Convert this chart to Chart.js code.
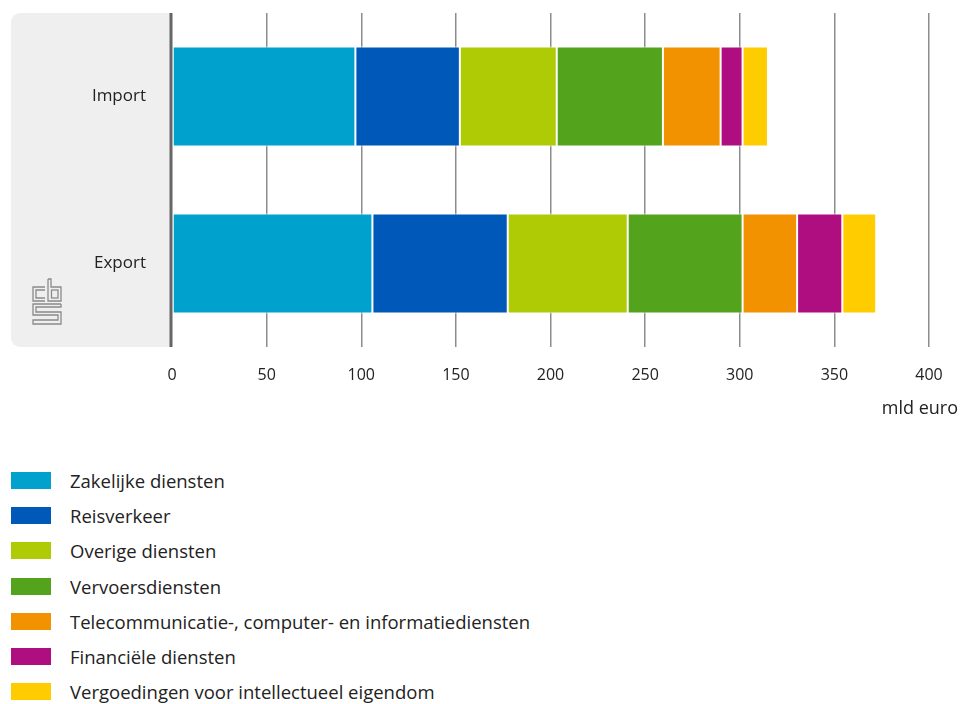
<!DOCTYPE html>
<html>
<head>
<meta charset="utf-8">
<script src="https://cdn.jsdelivr.net/npm/chart.js@4"></script>
<style>
    body { margin: 0; background: #fff; font-family: "Open Sans", sans-serif; color: #222; }
    #wrap { position: relative; width: 961px; height: 430px; }
    #legend { position: absolute; left: 11px; top: 472px; }
    .item { display: flex; align-items: center; height: 35.2px; margin-top: -9px; margin-bottom: 9px; font-size: 18.5px; }
    .swatch { width: 40px; height: 17px; margin-right: 19px; }
</style>
</head>
<body>
<div id="wrap"><canvas id="chart"></canvas></div>
<div id="legend"></div>
<script>
const categories = ["Import", "Export"];
const seriesNames = [
    "Zakelijke diensten",
    "Reisverkeer",
    "Overige diensten",
    "Vervoersdiensten",
    "Telecommunicatie-, computer- en informatiediensten",
    "Financiële diensten",
    "Vergoedingen voor intellectueel eigendom",
];
const zakelijke = [96.9, 105.9];
const reisverkeer = [55.2, 71.5];
const overige = [51.2, 63.4];
const vervoer = [56.1, 60.7];
const telecom = [30.5, 28.8];
const financieel = [11.6, 23.9];
const vergoedingen = [13.4, 17.9];
const xTicks = [0, 50, 100, 150, 200, 250, 300, 350, 400];
const unitLabel = "mld euro";

const colors = ["#00a1cd", "#0058b8", "#afcb05", "#53a31d", "#f39200", "#af0e80", "#ffcc00"];
const values = [zakelijke, reisverkeer, overige, vervoer, telecom, financieel, vergoedingen];

const textFont = "'Open Sans', sans-serif";

// grey panel behind the category labels, zero line, logo, unit label
const decor = {
    id: "decor",
    beforeDraw(chart) {
        const { ctx, chartArea } = chart;
        const x = 11, y = chartArea.top, w = chartArea.left - 11, h = chartArea.bottom - chartArea.top;
        ctx.save();
        ctx.fillStyle = "#efefef";
        ctx.beginPath();
        ctx.roundRect(x, y, w, h, [9, 0, 0, 9]);
        ctx.fill();

        // cbs logo
        ctx.strokeStyle = "#8a8a8a";
        ctx.lineWidth = 1.3;
        const lx = 32, ly = 278;
        const path = (pts) => {
            ctx.beginPath();
            pts.forEach(([px, py], i) => i ? ctx.lineTo(lx + px, ly + py) : ctx.moveTo(lx + px, ly + py));
            ctx.stroke();
        };
        path([[13, 9], [1, 9], [1, 23], [13, 23]]);
        path([[13, 12], [4, 12], [4, 20], [13, 20]]);
        path([[16, 1], [16, 23], [29, 23], [29, 9], [19, 9], [19, 1], [16, 1]]);
        ctx.strokeRect(lx + 19.5, ly + 12, 6.5, 8);
        path([[29, 26], [1, 26], [1, 37], [26, 37], [26, 42], [1, 42], [1, 46], [29, 46], [29, 34], [4, 34], [4, 29], [29, 29], [29, 26]]);
        ctx.restore();
    },
    afterDatasetsDraw(chart) {
        const { ctx, chartArea } = chart;
        ctx.save();
        ctx.fillStyle = "#666";
        ctx.fillRect(chartArea.left - 2.5, chartArea.top, 3, chartArea.bottom - chartArea.top);
        ctx.fillStyle = "#222";
        ctx.font = "18px " + textFont;
        ctx.textAlign = "right";
        ctx.textBaseline = "middle";
        ctx.fillText(unitLabel, 958, 409);
        ctx.restore();
    },
};

const chart = new Chart(document.getElementById("chart"), {
    type: "bar",
    data: {
        labels: categories,
        datasets: seriesNames.map((name, i) => ({
            label: name,
            data: values[i],
            backgroundColor: colors[i],
            borderColor: "#ffffff",
            borderWidth: 1,
            borderSkipped: false,
            categoryPercentage: 1,
            barPercentage: 0.6,
        })),
    },
    options: {
        indexAxis: "y",
        responsive: true,
        maintainAspectRatio: false,
        animation: false,
        layout: { padding: { top: 13, right: 32, left: 0, bottom: 0 } },
        scales: {
            x: {
                stacked: true,
                min: 0,
                max: 400,
                afterBuildTicks: (scale) => {
                    scale.ticks = xTicks.map((v) => ({ value: v }));
                },
                afterFit: (scale) => {
                    scale.height = 83;
                    scale.paddingLeft = 0;
                    scale.paddingRight = 0;
                },
                border: { display: false },
                grid: {
                    drawTicks: false,
                    color: (c) => (c.tick && c.tick.value === 0 ? "rgba(0,0,0,0)" : "#8c8c8c"),
                    lineWidth: 1.5,
                },
                ticks: {
                    padding: 19,
                    color: "#222",
                    font: { family: textFont, size: 16 },
                },
            },
            y: {
                stacked: true,
                afterFit: (scale) => {
                    scale.width = 172;
                    scale.paddingTop = 0;
                    scale.paddingBottom = 0;
                },
                border: { display: false },
                grid: { display: false, drawTicks: false },
                ticks: {
                    padding: 26,
                    color: "#222",
                    font: { family: textFont, size: 17 },
                },
            },
        },
        plugins: {
            legend: { display: false },
            tooltip: { enabled: false },
        },
    },
    plugins: [decor],
});

const legendEl = document.getElementById("legend");
seriesNames.forEach((name, i) => {
    const row = document.createElement("div");
    row.className = "item";
    row.innerHTML = `<span class="swatch" style="background:${colors[i]}"></span><span>${name}</span>`;
    legendEl.appendChild(row);
});
</script>
</body>
</html>
